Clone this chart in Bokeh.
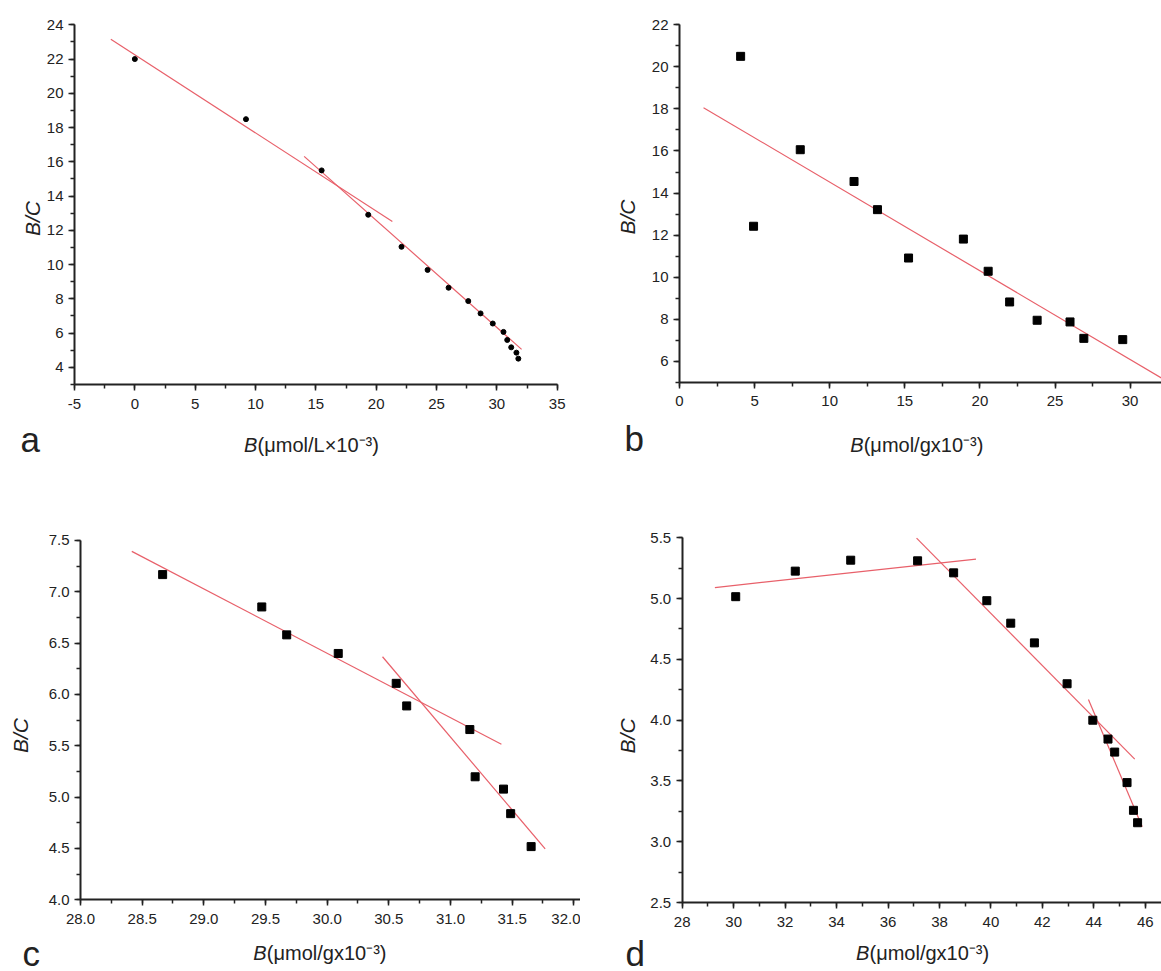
import math
from bokeh.plotting import figure
from bokeh.models import Range1d, SingleIntervalTicker, PrintfTickFormatter, Label, LinearAxis
from bokeh.layouts import column, row
from bokeh.embed import file_html
from bokeh.resources import INLINE

FONT = "Liberation Sans"
RED = "#e8606a"
INK = "#222222"

# ---------------- data ----------------
# panel a
a_x = [0.0, 9.21, 15.48, 19.34, 22.10, 24.26, 26.00, 27.63, 28.65, 29.66, 30.55, 30.86, 31.19, 31.62, 31.78]
a_y = [22.0, 18.49, 15.50, 12.91, 11.04, 9.69, 8.65, 7.87, 7.15, 6.56, 6.07, 5.60, 5.17, 4.86, 4.51]
a_fit1_x = [-1.99, 21.34]
a_fit1_y = [23.16, 12.52]
a_fit2_x = [14.03, 32.05]
a_fit2_y = [16.32, 5.05]

# panel b
b_x = [4.07, 4.93, 8.04, 11.62, 13.18, 15.25, 18.90, 20.55, 21.98, 23.81, 26.00, 26.92, 29.51]
b_y = [20.50, 12.42, 16.06, 14.55, 13.21, 10.91, 11.81, 10.28, 8.82, 7.95, 7.87, 7.09, 7.03]
b_fit_x = [1.60, 32.08]
b_fit_y = [18.06, 5.21]

# panel c
c_x = [28.666, 29.47, 29.672, 30.09, 30.56, 30.645, 31.157, 31.20, 31.43, 31.488, 31.654]
c_y = [7.167, 6.852, 6.58, 6.399, 6.108, 5.888, 5.658, 5.198, 5.078, 4.839, 4.518]
c_fit1_x = [28.416, 31.413]
c_fit1_y = [7.393, 5.515]
c_fit2_x = [30.449, 31.768]
c_fit2_y = [6.367, 4.495]

# panel d
d_x = [30.08, 32.395, 34.55, 37.15, 38.55, 39.84, 40.77, 41.69, 42.96, 43.96, 44.55, 44.81, 45.29, 45.54, 45.70]
d_y = [5.015, 5.225, 5.315, 5.31, 5.211, 4.982, 4.797, 4.635, 4.299, 3.999, 3.844, 3.737, 3.486, 3.258, 3.156]
d_fit1_x = [29.27, 39.42]
d_fit1_y = [5.09, 5.324]
d_fit2_x = [37.11, 45.59]
d_fit2_y = [5.497, 3.679]
d_fit3_x = [43.79, 45.88]
d_fit3_y = [4.169, 3.123]

y_label = "B/C"
x_label_a = "(μmol/L×10⁻³)"
x_label_g = "(μmol/gx10⁻³)"


def make_panel(W, H, xcal, ycal, xbounds, ybounds, xint, yint, xfmt, yfmt,
               letter, letter_px, xlab_rest, xlab_px, ylab_px):
    # xcal = (x0, x0_px, x1, x1_px); ycal = (y0, y0_px, y1, y1_px); px measured from canvas top-left
    x0, x0p, x1, x1p = xcal
    y0, y0p, y1, y1p = ycal
    sx = (x1p - x0p) / (x1 - x0)
    sy = (y0p - y1p) / (y1 - y0)
    xs = x0 - x0p / sx
    ys = y0 - (H - y0p) / sy
    px2x = lambda px: xs + px / sx
    px2y = lambda py: ys + (H - py) / sy

    p = figure(width=W, height=H, x_range=Range1d(xs, xs + W / sx), y_range=Range1d(ys, ys + H / sy),
               output_backend="svg", toolbar_location=None, tools="",
               x_axis_type=None, y_axis_type=None,
               min_border_left=0, min_border_right=0, min_border_top=0, min_border_bottom=0)
    p.outline_line_color = None
    p.background_fill_color = "white"
    p.border_fill_color = "white"

    xa = LinearAxis(fixed_location=y0, bounds=xbounds,
                    ticker=SingleIntervalTicker(interval=xint, num_minor_ticks=2),
                    formatter=PrintfTickFormatter(format=xfmt))
    ya = LinearAxis(fixed_location=x0, bounds=ybounds,
                    ticker=SingleIntervalTicker(interval=yint, num_minor_ticks=2),
                    formatter=PrintfTickFormatter(format=yfmt))
    for ax in (xa, ya):
        ax.axis_line_color = INK
        ax.axis_line_width = 2
        ax.major_tick_line_color = INK
        ax.major_tick_line_width = 1.5
        ax.minor_tick_line_color = INK
        ax.minor_tick_line_width = 1.5
        ax.major_tick_out = 6
        ax.major_tick_in = 0
        ax.minor_tick_out = 4
        ax.minor_tick_in = 0
        ax.major_label_text_font = FONT
        ax.major_label_text_font_size = "15px"
        ax.major_label_text_color = INK
    xa.major_label_standoff = 8
    ya.major_label_standoff = 5
    p.add_layout(xa, "below")
    p.add_layout(ya, "left")

    # y axis title
    p.add_layout(Label(x=px2x(ylab_px[0]), y=px2y(ylab_px[1]), text=y_label, angle=math.pi / 2,
                       text_font=FONT, text_font_size="21px", text_font_style="italic",
                       text_color=INK, text_align="center", text_baseline="alphabetic"))
    # x axis title: italic B + normal rest
    lx, ly = xlab_px
    p.add_layout(Label(x=px2x(lx), y=px2y(ly), text="B",
                       text_font=FONT, text_font_size="20px", text_font_style="italic",
                       text_color=INK, text_align="left", text_baseline="alphabetic"))
    p.add_layout(Label(x=px2x(lx + 13.5), y=px2y(ly), text=xlab_rest,
                       text_font=FONT, text_font_size="20px",
                       text_color=INK, text_align="left", text_baseline="alphabetic"))
    # panel letter
    p.add_layout(Label(x=px2x(letter_px[0]), y=px2y(letter_px[1]), text=letter,
                       text_font=FONT, text_font_size="35px",
                       text_color=INK, text_align="left", text_baseline="alphabetic"))
    return p


# page has no margin: top row canvas origin y = 0, bottom row y = 490; columns x = 0 and 580
pa = make_panel(580, 490, (-5, 74, 35, 556.7), (3, 384, 24, 24.3), (-5, 35), (3, 24), 5, 2, "%d", "%d",
                "a", (20, 439), x_label_a, (243.6, 444), (32, 218))
pa.line(a_fit1_x, a_fit1_y, line_color=RED, line_width=1.2)
pa.line(a_fit2_x, a_fit2_y, line_color=RED, line_width=1.2)
pa.scatter(a_x, a_y, marker="circle", size=5, fill_color="black", line_color="black")

pb = make_panel(581, 490, (0, 99, 30, 549.6), (5, 381.8, 22, 24.3), (0, 40), (5, 22), 5, 2, "%d", "%d",
                "b", (44, 438), x_label_g, (269.7, 444), (47, 216.5))
pb.line(b_fit_x, b_fit_y, line_color=RED, line_width=1.2)
pb.scatter(b_x, b_y, marker="square", size=8, fill_color="black", line_color="black")

pc = make_panel(580, 481, (28, 80, 32, 573.3), (4, 409.3, 7.5, 49.9), (28, 33), (4, 7.5), 0.5, 0.5, "%.1f", "%.1f",
                "c", (22, 463), x_label_g, (252.8, 462), (20, 245))
pc.line(c_fit1_x, c_fit1_y, line_color=RED, line_width=1.2)
pc.line(c_fit2_x, c_fit2_y, line_color=RED, line_width=1.2)
pc.scatter(c_x, c_y, marker="square", size=8, fill_color="black", line_color="black")

pd = make_panel(581, 481, (28, 101.7, 46, 564.8), (2.5, 412, 5.5, 47.2), (28, 50), (2.5, 5.5), 2, 0.5, "%d", "%.1f",
                "d", (45, 463), x_label_g, (275.5, 462), (47, 245.4))
pd.line(d_fit1_x, d_fit1_y, line_color=RED, line_width=1.2)
pd.line(d_fit2_x, d_fit2_y, line_color=RED, line_width=1.2)
pd.line(d_fit3_x, d_fit3_y, line_color=RED, line_width=1.2)
pd.scatter(d_x, d_y, marker="square", size=8, fill_color="black", line_color="black")

layout = column(row(pa, pb), row(pc, pd))
open("out.html", "w").write(file_html(layout, INLINE))
